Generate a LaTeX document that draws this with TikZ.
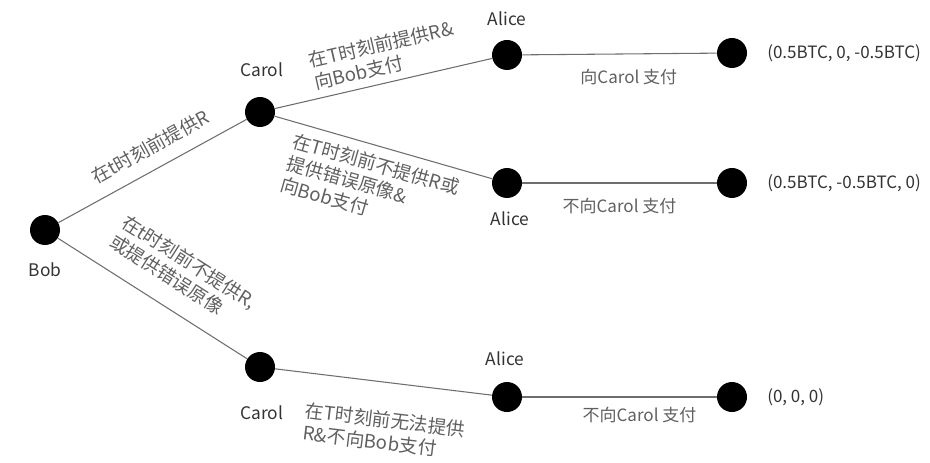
\documentclass[tikz,border=0pt]{standalone}
\usepackage{fontspec}
\setmainfont{Noto Sans CJK SC}
\usetikzlibrary{positioning}
\definecolor{linegray}{HTML}{6E6E6E}
\definecolor{txtgray}{HTML}{606060}
\begin{document}
\begin{tikzpicture}[x=0.75pt, y=-0.75pt,
	dot/.style={circle, fill=black, inner sep=0pt, minimum size=22.5pt},
	edge/.style={draw=linegray, line width=0.8pt},
	who/.style={font=\fontsize{13}{15}\selectfont, text=black!80},
	act/.style={font=\fontsize{14}{17}\selectfont, text=txtgray, align=left, inner sep=1pt},
	payact/.style={act, font=\fontsize{12.75}{15}\selectfont},
	pay/.style={font=\fontsize{12.75}{15}\selectfont, text=black!80, anchor=west, inner sep=0pt}]
	\useasboundingbox (0,0) rectangle (930,463);
	\node[dot] (bob) at (45,230) {};
	\node[dot] (carolA) at (260,112) {};
	\node[dot] (carolB) at (260,367) {};
	\node[dot] (aliceA) at (507,55) {};
	\node[dot] (aliceB) at (507,183) {};
	\node[dot] (aliceC) at (507,397) {};
	\node[dot] (endA) at (732,53) {};
	\node[dot] (endB) at (732,183) {};
	\node[dot] (endC) at (732,397) {};
	\node[who] (bobname) at (45,270) {Bob};
	\node[who] (carolAname) at (262,70) {Carol};
	\node[who] (carolBname) at (262,413) {Carol};
	\node[who] (aliceAname) at (507,19) {Alice};
	\node[who] (aliceBname) at (510,219) {Alice};
	\node[who] (aliceCname) at (505,359) {Alice};
	\node[pay] (payA) at (767,53) {(0.5BTC, 0, -0.5BTC)};
	\node[pay] (payB) at (767,183) {(0.5BTC, -0.5BTC, 0)};
	\node[pay] (payC) at (767,397) {(0, 0, 0)};
	\draw[edge] (bob) -- (carolA) node[act, pos=0.545, sloped, above=8.8pt] {在t时刻前提供R};
	\draw[edge] (bob) -- (carolB) node[act, pos=0.55, sloped, above=13.2pt] {在t时刻前不提供R,\\或提供错误原像};
	\draw[edge] (carolA) -- (aliceA) node[act, pos=0.53, sloped, above=4.2pt] {在T时刻前提供R\&\\向Bob支付};
	\draw[edge] (carolA) -- (aliceB) node[act, pos=0.49, sloped, below=5.7pt] {在T时刻前不提供R或\\提供错误原像\&\\向Bob支付};
	\draw[edge] (carolB) -- (aliceC) node[act, pos=0.53, sloped, below=20.2pt] {在T时刻前无法提供\\R\&不向Bob支付};
	\draw[edge] (aliceA) -- (endA) node[payact, midway, below=10pt, xshift=7pt] {向Carol 支付};
	\draw[edge] (aliceB) -- (endB) node[payact, midway, below=10pt] {不向Carol 支付};
	\draw[edge] (aliceC) -- (endC) node[payact, midway, below=6.4pt, xshift=15pt] {不向Carol 支付};
\end{tikzpicture}
\end{document}
